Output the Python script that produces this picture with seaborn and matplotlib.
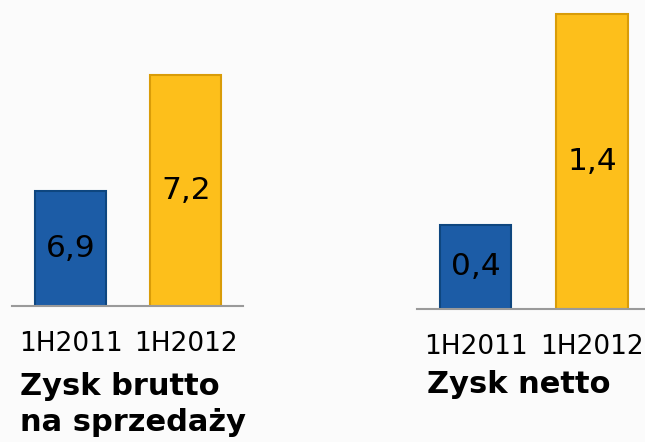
import matplotlib
matplotlib.use("Agg")
import matplotlib.pyplot as plt
import seaborn as sns

periods = ["1H2011", "1H2012"]
gross_profit = [6.9, 7.2]
net_profit = [0.4, 1.4]
titles = ["Zysk brutto\nna sprzedaży", "Zysk netto"]
bar_colors = ["#1c5ca6", "#fdbf1b"]
edge_colors = ["#0e467f", "#d99c08"]

sns.set_theme(style="white")
plt.rcParams["font.family"] = ["DejaVu Sans"]

W, H = 645, 442
fig = plt.figure(figsize=(W / 100, H / 100), dpi=100)
fig.patch.set_facecolor("#fbfbfb")


def ax_px(x0, x1, ybase):
    return fig.add_axes([x0 / W, (H - ybase) / H, (x1 - x0) / W, ybase / H])


panels = [
    (ax_px(12, 243, 306), gross_profit, 6.6, 7.395, (-0.506, 1.494)),
    (ax_px(417, 645, 309), net_profit, 0.0, 1.464, (-0.502, 1.455)),
]

for ax, vals, lo, hi, xl in panels:
    ax.set_facecolor("none")
    sns.barplot(x=periods, y=vals, hue=periods, palette=bar_colors,
                width=0.615, ax=ax, legend=False, saturation=1)
    for p, ec in zip(ax.patches, edge_colors):
        p.set_edgecolor(ec)
        p.set_linewidth(1.5)
    ax.set_ylim(lo, hi)
    ax.set_xlim(*xl)
    for i, v in enumerate(vals):
        ax.text(i, (v + lo) / 2, f"{v:.1f}".replace(".", ","), ha="center",
                va="center", fontsize=22.5, color="black")
    for s in ["top", "right", "left"]:
        ax.spines[s].set_visible(False)
    ax.spines["bottom"].set_color("#9a9a9a")
    ax.spines["bottom"].set_linewidth(1.5)
    ax.set_yticks([])
    ax.tick_params(axis="x", length=0, pad=18, labelsize=19, labelcolor="black")
    ax.set_xlabel("")
    ax.set_ylabel("")

fig.text(20 / W, 1 - 372 / H, titles[0], ha="left", va="top", fontsize=22,
         fontweight="bold", color="black", linespacing=1.3)
fig.text(427 / W, 1 - 370 / H, titles[1], ha="left", va="top", fontsize=22,
         fontweight="bold", color="black")

fig.savefig("out.png", dpi=100, facecolor=fig.get_facecolor())
